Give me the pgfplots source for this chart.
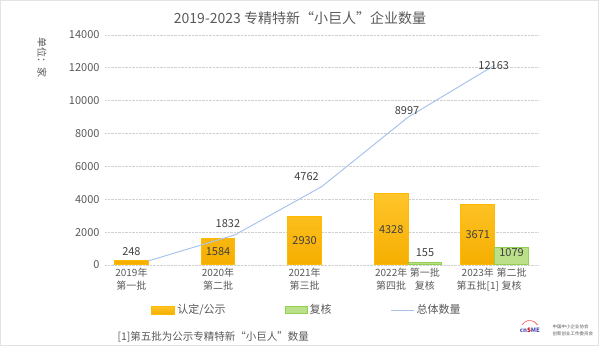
\documentclass[border=0pt]{standalone}
\usepackage{pgfplots}
\pgfplotsset{compat=1.18}
\usepackage{pgfplotstable}
\usepackage{fontspec}
\setmainfont{Noto Sans CJK SC}
\definecolor{txt}{HTML}{595959}
\definecolor{valtxt}{HTML}{404040}
\definecolor{orT}{HTML}{FFC52A}
\definecolor{orB}{HTML}{F5AE00}
\definecolor{orD}{HTML}{FFBA00}
\definecolor{grF}{HTML}{BCE08A}
\definecolor{grD}{HTML}{92D050}
\definecolor{lineC}{HTML}{A9C4EB}
\definecolor{gridC}{HTML}{D0D0D0}
\definecolor{frameC}{HTML}{E3E3E3}

\pgfplotstableread{
x y dy
-0.195 248 9
0.805 1584 -13
1.805 2930 -24
2.805 4328 -35.5
3.805 3671 -30
}\orangedata
\pgfplotstableread{
x y dy
3.195 155 10
4.195 1079 -5
}\greendata
\pgfplotstableread{
x y dx dy op
0 248 0 0 0
1 1832 -7 11 1
2 4762 -15 10 1
3 8997 -1 7 1
4 12163 -1 0 1
}\totaldata

\begin{document}
\begin{tikzpicture}
\path[use as bounding box] (0pt,0pt) rectangle (600pt,355pt);
\draw[frameC, line width=1pt] (0.5pt,9.5pt) rectangle (598pt,354.5pt);
\node[font=\fontsize{14}{16}\selectfont, text=txt] at (300pt,337pt) {2019-2023 专精特新“小巨人”企业数量};
\node[rotate=-90, font=\fontsize{10}{10}\selectfont, text=txt] at (42pt,297pt) {单位：家};
\begin{axis}[
  at={(105pt,90pt)}, anchor=south west,
  scale only axis, width=433pt, height=230pt,
  xmin=-0.5, xmax=4.5, ymin=0, ymax=14000,
  ytick={0,2000,...,14000},
  xtick={-0.195,0.805,1.805,2.805,3.195,3.805,4.195},
  xticklabels={{2019年\\第一批},{2020年\\第二批},{2021年\\第三批},{2022年\\第四批},{第一批\\复核},{2023年\\第五批[1]},{第二批\\复核}},
  xticklabel style={align=center, font=\fontsize{10}{13}\selectfont, text=txt},
  yticklabel style={font=\fontsize{11}{13}\selectfont, text=txt, xshift=-2pt},
  major tick length=0pt,
  axis line style={draw=none},
  ymajorgrids, grid style={densely dotted, gridC, line width=0.7pt},
  scaled y ticks=false,
  /pgf/number format/1000 sep={},
  /pgf/number format/assume math mode=true,
  clip=false,
  legend columns=3,
  legend style={at={(0.4665,-0.1957)}, anchor=center, draw=none, fill=none,
    font=\fontsize{11}{13}\selectfont, text=txt,
    /tikz/every even column/.append style={column sep=57pt}},
]
\addplot[ybar, bar width=0.39, bar shift=0pt, top color=orT, bottom color=orB, draw=orD, line width=1pt,
  nodes near coords,
  visualization depends on={\thisrow{dy}\as\dy},
  every node near coord/.append style={anchor=center, yshift=\dy pt, font=\fontsize{11}{13}\selectfont, text=valtxt},
  legend image code/.code={\fill[orD] (0pt,-4pt) rectangle (23pt,4pt);}]
  table[x=x,y=y]{\orangedata};
\addlegendentry{认定/公示}
\addplot[ybar, bar width=0.39, bar shift=0pt, fill=grF, draw=grD, line width=1pt,
  nodes near coords,
  visualization depends on={\thisrow{dy}\as\dy},
  every node near coord/.append style={anchor=center, yshift=\dy pt, font=\fontsize{11}{13}\selectfont, text=valtxt},
  legend image code/.code={\draw[grD, fill=grF, line width=1pt] (0.5pt,-3.5pt) rectangle (22.5pt,3.5pt);}]
  table[x=x,y=y]{\greendata};
\addlegendentry{复核}
\addplot[lineC, line width=1pt, mark=none,
  nodes near coords,
  visualization depends on={\thisrow{dx}\as\dx},
  visualization depends on={\thisrow{dy}\as\dy},
  visualization depends on={\thisrow{op}\as\op},
  every node near coord/.append style={anchor=center, xshift=\dx pt, yshift=\dy pt, opacity=\op, font=\fontsize{11}{13}\selectfont, text=valtxt},
  legend image code/.code={\draw[lineC, line width=1pt] (0pt,0pt) -- (23pt,0pt);}]
  table[x=x,y=y]{\totaldata};
\addlegendentry{总体数量}
\end{axis}
\node[anchor=west, font=\fontsize{10.5}{13}\selectfont, text=txt] at (114pt,18pt) {[1]第五批为公示专精特新“小巨人”数量};
\node[font=\fontsize{6}{6}\selectfont\bfseries, text=blue!40!gray] at (530pt,25pt) {cn\textcolor{red!80!black}{S}ME};
\draw[red!70, line width=0.6pt] (522pt,30pt) arc (150:30:9pt);
\node[anchor=west, font=\fontsize{4.5}{5}\selectfont, text=txt] at (549pt,28pt) {中国中小企业协会};
\node[anchor=west, font=\fontsize{4.5}{5}\selectfont, text=txt] at (549pt,21.5pt) {创新创业工作委员会};
\end{tikzpicture}
\end{document}
